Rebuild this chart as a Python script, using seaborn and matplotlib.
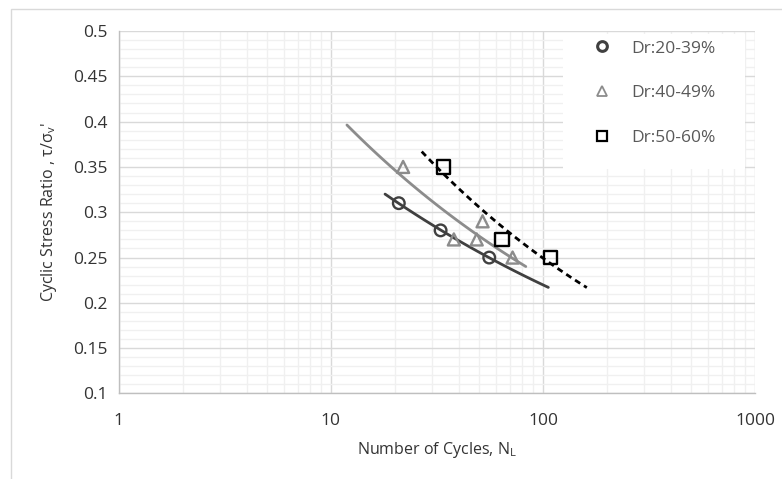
import numpy as np
import matplotlib
matplotlib.use('Agg')
import matplotlib.pyplot as plt
import seaborn as sns
from matplotlib.lines import Line2D
from matplotlib.patches import Rectangle
from matplotlib.ticker import LogLocator, MultipleLocator, FixedLocator, FixedFormatter

sns.set_style('white')
plt.rcParams['font.family'] = ['Open Sans', 'DejaVu Sans']
plt.rcParams['mathtext.fontset'] = 'custom'
plt.rcParams['mathtext.rm'] = 'Open Sans'

# --- データ---
labels = ['Dr:20-39%', 'Dr:40-49%', 'Dr:50-60%']

n_20_39 = [20.9, 32.9, 55.8]
csr_20_39 = [0.31, 0.28, 0.25]

n_40_49 = [21.9, 38.0, 48.7, 51.9, 71.9]
csr_40_49 = [0.35, 0.27, 0.27, 0.29, 0.25]

n_50_60 = [34.1, 64.1, 109.0]
csr_50_60 = [0.35, 0.27, 0.25]

# 近似曲線（べき乗）の描画範囲
trend_range_20_39 = [18.0, 106.0]
trend_range_40_49 = [11.9, 83.0]
trend_range_50_60 = [26.8, 161.0]

x_ticks = [1, 10, 100, 1000]
x_tick_labels = ['1', '10', '100', '1000']
y_ticks = [0.1, 0.15, 0.2, 0.25, 0.3, 0.35, 0.4, 0.45, 0.5]
y_tick_labels = ['0.1', '0.15', '0.2', '0.25', '0.3', '0.35', '0.4', '0.45', '0.5']
# --------------------------------------------------------

c_dark = '#404040'
c_grey = '#8c8c8c'
c_black = '#000000'
txt = '#333333'

fig = plt.figure(figsize=(7.82, 4.79), dpi=100)
ax = fig.add_axes([0.152, 0.1785, 0.8135, 0.7568])

# 外枠
fig.patches.append(Rectangle((11 / 782, -0.05), 1.2, (479 - 9) / 479 + 0.05,
                             transform=fig.transFigure, fill=False,
                             edgecolor='#d9d9d9', linewidth=1.0, zorder=0))


def power_fit(x, y, xr):
    # Excelのべき乗近似と同じく log-log で最小二乗
    b, lna = np.polyfit(np.log(x), np.log(y), 1)
    xs = np.geomspace(xr[0], xr[1], 50)
    return xs, np.exp(lna) * xs ** b


series = [
    (n_20_39, csr_20_39, trend_range_20_39, 'o', c_dark, '-', 2.0, 70),
    (n_40_49, csr_40_49, trend_range_40_49, '^', c_grey, '-', 2.0, 75),
    (n_50_60, csr_50_60, trend_range_50_60, 's', c_black, (0, (2.2, 1.6)), 2.0, 90),
]

for x, y, xr, mk, col, ls, lw, ms in series:
    xs, ys = power_fit(x, y, xr)
    sns.lineplot(x=xs, y=ys, ax=ax, color=col, linewidth=lw, linestyle=ls,
                 zorder=3, estimator=None, sort=False)
    sns.scatterplot(x=x, y=y, ax=ax, marker=mk, s=ms, facecolor='none',
                    edgecolor=col, linewidth=1.7, zorder=4)

ax.set_xscale('log')
ax.set_xlim(1, 1000)
ax.set_ylim(0.1, 0.5)

ax.xaxis.set_major_locator(FixedLocator(x_ticks))
ax.xaxis.set_major_formatter(FixedFormatter(x_tick_labels))
ax.xaxis.set_minor_locator(LogLocator(base=10, subs=np.arange(2, 10)))
ax.xaxis.set_minor_formatter(plt.NullFormatter())
ax.yaxis.set_major_locator(FixedLocator(y_ticks))
ax.yaxis.set_major_formatter(FixedFormatter(y_tick_labels))
ax.yaxis.set_minor_locator(MultipleLocator(0.01))

ax.set_axisbelow(True)
ax.grid(which='major', color='#d9d9d9', linewidth=1.0)
ax.grid(which='minor', color='#f0f0f0', linewidth=1.0)

for s in ['top', 'right']:
    ax.spines[s].set_visible(False)
for s in ['left', 'bottom']:
    ax.spines[s].set_color('#bfbfbf')
    ax.spines[s].set_linewidth(1.0)

ax.tick_params(which='major', length=4, width=1, color='#bfbfbf',
               labelsize=12.5, labelcolor=txt, direction='out')
ax.tick_params(which='minor', length=0)
ax.tick_params(axis='x', pad=10)
ax.tick_params(axis='y', pad=4)

ax.set_xlabel('Number of Cycles, N$_\\mathregular{L}$', fontsize=11.5,
              color=txt, labelpad=8)
ax.set_ylabel("Cyclic Stress Ratio , \u03c4/\u03c3$_\\mathregular{v}$'",
              fontsize=11.5, color=txt, labelpad=10)

# 凡例の白い背景（グリッドの端が少し見える）
ax.add_patch(Rectangle((0.698, 0.618), 0.287, 0.373, transform=ax.transAxes,
                       facecolor='white', edgecolor='none', zorder=1))

handles = [
    Line2D([], [], linestyle='none', marker='o', markersize=7,
           markerfacecolor='none', markeredgecolor=c_dark, markeredgewidth=2.2),
    Line2D([], [], linestyle='none', marker='^', markersize=7.5,
           markerfacecolor='none', markeredgecolor=c_grey, markeredgewidth=1.3),
    Line2D([], [], linestyle='none', marker='s', markersize=7.5,
           markerfacecolor='none', markeredgecolor=c_black, markeredgewidth=1.6),
]
leg = ax.legend(handles, labels, loc='upper left', bbox_to_anchor=(0.746, 0.974),
                frameon=False, fontsize=12.5, handlelength=1.0,
                handletextpad=1.15, labelspacing=1.65, borderpad=0,
                borderaxespad=0)
for t in leg.get_texts():
    t.set_color('#595959')

fig.savefig('out.png', dpi=100)
